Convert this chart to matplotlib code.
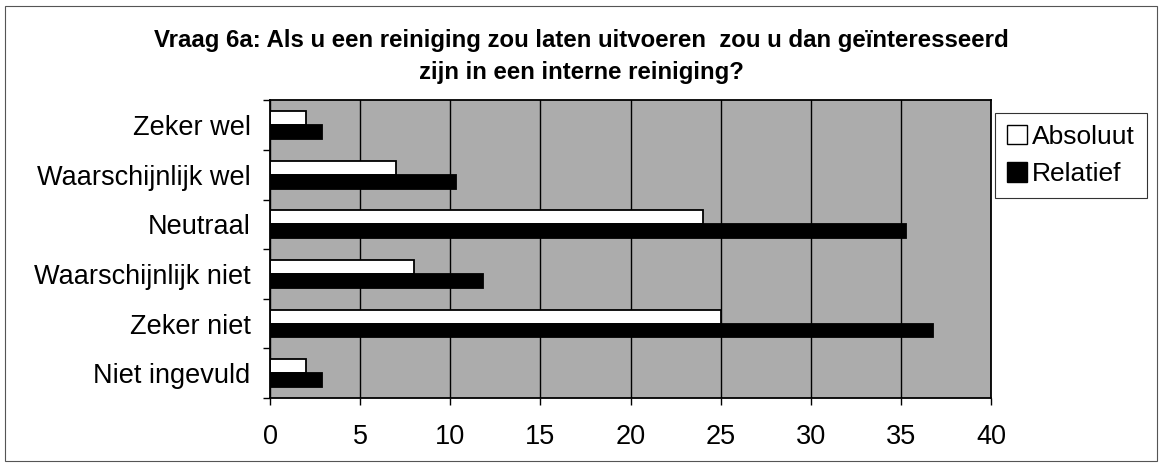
import numpy as np
import matplotlib.pyplot as plt
from matplotlib.patches import Rectangle, Patch

plt.rcParams['font.family'] = ['Liberation Sans', 'DejaVu Sans']

categories = ['Zeker wel', 'Waarschijnlijk wel', 'Neutraal',
              'Waarschijnlijk niet', 'Zeker niet', 'Niet ingevuld']
absoluut = [2, 7, 24, 8, 25, 2]
relatief = [2.9, 10.3, 35.3, 11.8, 36.8, 2.9]

fig = plt.figure(figsize=(11.62, 4.67), dpi=100)
fig.patches.append(Rectangle((0.004, 0.012), 0.992, 0.975, transform=fig.transFigure,
                             fill=False, edgecolor='#555555', linewidth=0.8))

ax = fig.add_axes([0.2324, 0.148, 0.6205, 0.637])
ax.set_facecolor('#acacac')

y = np.arange(len(categories))
h = 0.28
ax.barh(y - h / 2, absoluut, height=h, color='white', edgecolor='black', linewidth=1.3)
ax.barh(y + h / 2, relatief, height=h, color='black', edgecolor='black', linewidth=1.3)

ax.set_xlim(0, 40)
ax.set_ylim(len(categories) - 0.5, -0.5)
ax.set_xticks(range(0, 41, 5))
ax.set_yticks(y)
ax.set_yticklabels(categories)
# tick marks sit between the categories, labels in the middle
ax.set_yticks(np.arange(-0.5, len(categories), 1), minor=True)
ax.tick_params(axis='y', which='major', length=0, pad=14, labelsize=19.5)
ax.tick_params(axis='y', which='minor', length=5, width=1)
ax.tick_params(axis='x', length=5, width=1, pad=14, labelsize=19.5)
ax.xaxis.grid(True, color='black', linewidth=1)
ax.set_axisbelow(True)
for s in ax.spines.values():
    s.set_linewidth(1.3)

fig.text(0.5, 0.879, 'Vraag 6a: Als u een reiniging zou laten uitvoeren  zou u dan geïnteresseerd\nzijn in een interne reiniging?',
         ha='center', va='center', fontsize=17.3, fontweight='bold', linespacing=1.45)

handles = [Patch(facecolor='white', edgecolor='black', label='Absoluut'),
           Patch(facecolor='black', edgecolor='black', label='Relatief')]
leg = fig.legend(handles=handles, loc='upper left', bbox_to_anchor=(995 / 1162, 1 - 113 / 467),
                 fontsize=19, frameon=True, fancybox=False, handlelength=0.75,
                 handleheight=0.75, handletextpad=0.2, borderpad=0.45, labelspacing=0.5,
                 borderaxespad=0)
leg.get_frame().set_edgecolor('black')
leg.get_frame().set_linewidth(0.8)

fig.savefig('out.png', dpi=100)
